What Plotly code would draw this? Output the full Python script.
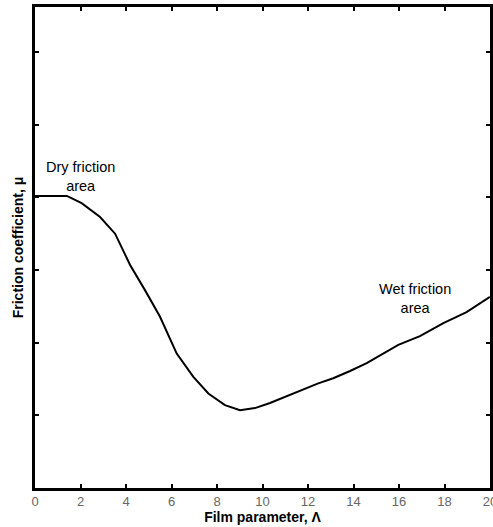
import plotly.graph_objects as go

# Film parameter (Lambda) and friction coefficient (arbitrary units; tick = 1 unit)
film_param = [0.0, 1.4, 2.05, 2.86, 3.52, 4.18, 4.84, 5.49, 6.23, 6.96, 7.62, 8.35, 9.01,
              9.67, 10.33, 11.06, 11.79, 12.45, 13.11, 13.85, 14.58, 15.31, 15.97,
              16.92, 17.95, 18.97, 20.0]
friction = [4.02, 4.02, 3.92, 3.73, 3.50, 3.07, 2.72, 2.36, 1.85, 1.53, 1.30, 1.14, 1.07,
            1.10, 1.17, 1.26, 1.36, 1.44, 1.51, 1.61, 1.72, 1.85, 1.97,
            2.09, 2.27, 2.42, 2.63]

x_ticks = [0, 2, 4, 6, 8, 10, 12, 14, 16, 18, 20]
y_ticks = [1, 2, 3, 4, 5, 6]

FONT = "Liberation Sans, Arial, sans-serif"

fig = go.Figure()
fig.add_trace(go.Scatter(x=film_param, y=friction, mode="lines",
                         line=dict(color="black", width=2), showlegend=False,
                         hoverinfo="skip"))

fig.add_annotation(x=1.98, y=4.29, xref="x", yref="y", text="Dry friction<br>area",
                   showarrow=False, font=dict(family=FONT, size=14.5, color="black"),
                   yanchor="middle", align="center")
fig.add_annotation(x=16.7, y=2.61, xref="x", yref="y", text="Wet friction<br>area",
                   showarrow=False, font=dict(family=FONT, size=14.5, color="black"),
                   yanchor="middle", align="center")

fig.update_layout(
    width=493, height=527,
    margin=dict(l=35, r=3, t=7, b=39, autoexpand=False),
    paper_bgcolor="white", plot_bgcolor="white",
    font=dict(family=FONT),
    xaxis=dict(range=[0, 20], tickvals=x_ticks, ticktext=[str(v) for v in x_ticks],
               ticks="inside", ticklen=4, tickwidth=2, tickcolor="black",
               showline=True, linecolor="black", linewidth=2.5, mirror="ticks",
               showgrid=False, zeroline=False, ticklabeloverflow="allow",
               automargin=False,
               tickfont=dict(family=FONT, size=13, color="#666666"),
               title=dict(text="<b>Film parameter, Λ</b>", standoff=1,
                          font=dict(family=FONT, size=14, color="black"))),
    yaxis=dict(range=[0, 6.62], tickvals=y_ticks, showticklabels=False,
               ticks="inside", ticklen=4, tickwidth=2, tickcolor="black",
               showline=True, linecolor="black", linewidth=2.5, mirror="ticks",
               showgrid=False, zeroline=False, automargin=False,
               title=dict(text="<b>Friction coefficient, μ</b>", standoff=6,
                          font=dict(family=FONT, size=14, color="black"))),
)

fig.write_html("out.html")
